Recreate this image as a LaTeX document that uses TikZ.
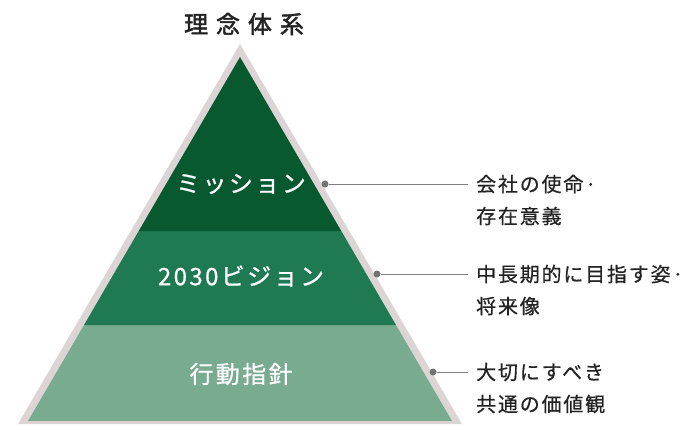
\documentclass[tikz,border=0pt]{standalone}
\usepackage{xcolor}
\usepackage{fontspec}
\usepackage{tikz}
\setmainfont{Noto Sans CJK JP}
\newfontfamily\titlefont[LetterSpace=33,FakeBold=2]{Noto Sans CJK JP}
\newfontfamily\tierfont[LetterSpace=10,FakeBold=0.8]{Noto Sans CJK JP}
\newfontfamily\remarkfont[LetterSpace=9,FakeBold=0.6]{Noto Sans CJK JP}
\usetikzlibrary{positioning}
\definecolor{missiongreen}{RGB}{8,89,47}
\definecolor{visiongreen}{RGB}{31,121,82}
\definecolor{policygreen}{RGB}{121,171,144}
\definecolor{rimgray}{RGB}{221,213,213}
\definecolor{inkgray}{RGB}{35,35,35}

\begin{document}
\begin{tikzpicture}[x=1pt, y=-1pt,
    tiertext/.style = {text=white, font=\tierfont\fontsize{24pt}{24pt}\selectfont},
    remark/.style = {text=inkgray, align=left, anchor=west, inner sep=0pt,
        font=\remarkfont\fontsize{20pt}{32pt}\selectfont},
    joint/.style = {circle, fill=black!55, minimum size=7pt, inner sep=0pt},
    leader/.style = {draw=black!50, line width=0.9pt, shorten >=8pt}]
    \useasboundingbox (0,0) rectangle (686,424);
    \fill[rimgray] (240,44) -- (462,424) -- (18,424) -- cycle;
    \fill[policygreen] (28,421) -- (84,325) -- (396,325) -- (452,421) -- cycle;
    \fill[visiongreen] (84,325) -- (138.7,231) -- (341.3,231) -- (396,325) -- cycle;
    \fill[missiongreen] (138.7,231) -- (240,57) -- (341.3,231) -- cycle;
    \node[text=inkgray, font=\titlefont\fontsize{24pt}{24pt}\selectfont, xshift=4pt] (title) at (240,24) {理念体系};
    \node[tiertext, xshift=1pt] (mission) at (240,184) {ミッション};
    \node[tiertext, xshift=1pt] (vision) at (240,276) {2030ビジョン};
    \node[tiertext, xshift=1pt] (policy) at (240,374) {行動指針};
    \node[joint] (mdot) at (325,184) {};
    \node[joint] (vdot) at (377,274) {};
    \node[joint] (pdot) at (433,372) {};
    \node[remark] (mtext) at (476,200) {会社の使命·\\存在意義};
    \node[remark] (vtext) at (476,290) {中長期的に目指す姿·\\将来像};
    \node[remark] (ptext) at (476,388) {大切にすべき\\共通の価値観};
    \draw[leader] (mdot) -- (mdot -| mtext.west);
    \draw[leader] (vdot) -- (vdot -| vtext.west);
    \draw[leader] (pdot) -- (pdot -| ptext.west);
\end{tikzpicture}
\end{document}
